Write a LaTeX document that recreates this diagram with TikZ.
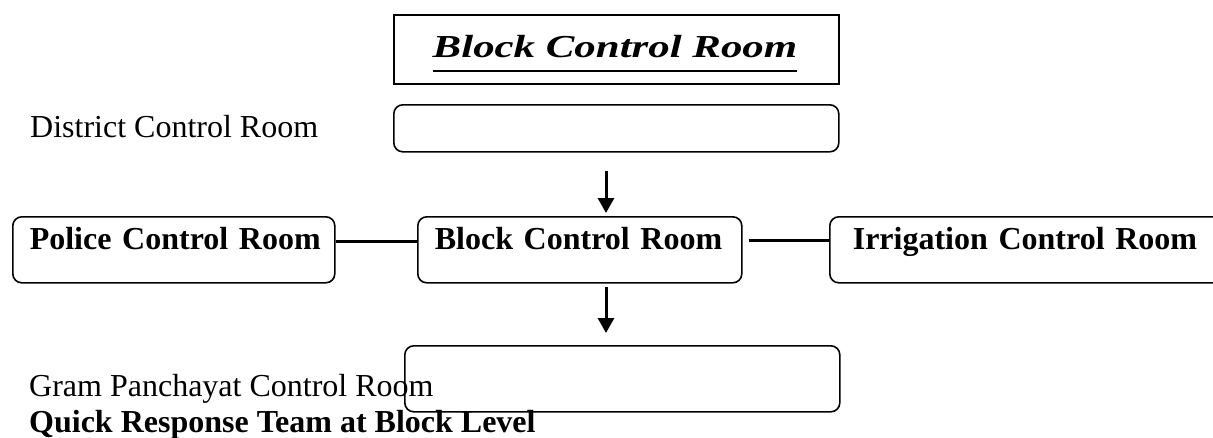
\documentclass[tikz,border=0pt]{standalone}
\usepackage{fontspec}
\setmainfont{Liberation Serif}
\usetikzlibrary{arrows.meta}
\begin{document}
\begin{tikzpicture}[x=1pt,y=-1pt,
  room/.style={draw,line width=1.6pt,rounded corners=9pt,anchor=north west,inner ysep=0pt,text height=33pt,text depth=33pt,align=left,font=\bfseries},
  blank/.style={draw,line width=1.6pt,rounded corners=9pt,anchor=north west,inner sep=0pt},
  plain/.style={anchor=base west,inner sep=0pt},
  flow/.style={line width=3pt,-{Triangle[length=15pt,width=16pt]}},
  link/.style={line width=3pt}]
\useasboundingbox (0,0) rectangle (1213,437);
\fontsize{32}{38}\selectfont
\node[draw,line width=1.6pt,anchor=north west,inner sep=0pt,minimum width=445pt,minimum height=69pt] (titlebox) at (393,14) {};
\node[anchor=base,inner sep=0pt,font=\bfseries\itshape] (title) at (615,57) {\scalebox{1.34}[1]{Block Control Room}};
\path[draw,line width=2.7pt] ([yshift=-14pt]title.base west) -- ([yshift=-14pt]title.base east);

\node[plain] (districtlabel) at (30,137) {District Control Room};
\node[blank,minimum width=445pt,minimum height=47pt] (district) at (393,104) {};

\node[room,inner xsep=17pt,text width=288pt] (police) at (12,216) {\mbox{Police Control Room}};
\node[room,inner xsep=17pt,text width=290pt] (block) at (417,216) {\mbox{Block Control Room}};
\node[room,inner xsep=23pt,text width=360pt] (irrigation) at (829,216) {\mbox{Irrigation Control Room}};

\node[plain] (gramlabel) at (29,396) {Gram Panchayat Control Room};
\node[plain,font=\bfseries] (qrt) at (29,432) {Quick Response Team at Block Level};
\node[blank,minimum width=435pt,minimum height=66pt] (gram) at (404,345) {};

\coordinate (axis) at (606,0);
\path[draw,flow,shorten <=18pt,shorten >=3pt] (district.south -| axis) -- (block.north -| axis);
\path[draw,flow,shorten <=3pt,shorten >=12pt] (block.south -| axis) -- (gram.north -| axis);
\path[draw,link] ([yshift=8pt]police.east) -- ([yshift=8pt]block.west);
\path[draw,link,shorten <=6pt] ([yshift=9pt]block.east) -- ([yshift=9pt]irrigation.west);
\end{tikzpicture}
\end{document}
